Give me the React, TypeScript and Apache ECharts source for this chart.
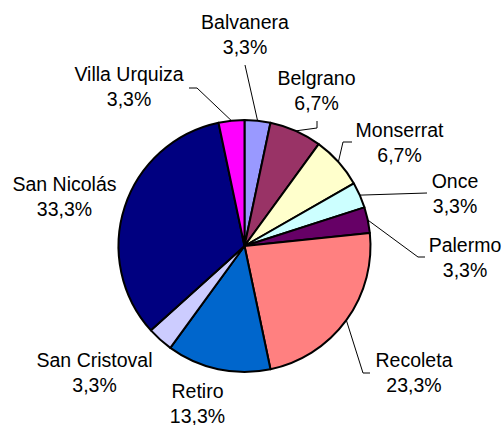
import React, { useEffect, useRef } from "react";
import * as echarts from "echarts";

const districts = [
  "Balvanera",
  "Belgrano",
  "Monserrat",
  "Once",
  "Palermo",
  "Recoleta",
  "Retiro",
  "San Cristoval",
  "San Nicolás",
  "Villa Urquiza",
];
const shares = [3.3, 6.7, 6.7, 3.3, 3.3, 23.3, 13.3, 3.3, 33.3, 3.3];
const sliceColors = [
  "#9999FF",
  "#993366",
  "#FFFFCC",
  "#CCFFFF",
  "#660066",
  "#FF8080",
  "#0066CC",
  "#CCCCFF",
  "#000080",
  "#FF00FF",
];

// layout (label centres, leader-line offsets relative to label centre)
const CX = 244.5;
const CY = 246;
const R = 126;
const labelCenters: number[][] = [
  [245, 34],
  [316.5, 90],
  [399.5, 142],
  [455, 193],
  [465, 257],
  [414, 372],
  [197.5, 403],
  [94.5, 372],
  [64.5, 196],
  [129, 86.5],
];
const leaderOffsets: (number[][] | null)[] = [
  [[0, 31], [0, 31]],
  [[0.5, 38], [0.5, 31]],
  [[-56.5, 0], [-47.5, 0]],
  [[-28, 0], [-28, 0]],
  [[-47, 0], [-40, 0]],
  [[-51, 1], [-44, 1]],
  null,
  null,
  null,
  [[68, 1.5], [60, 1.5]],
];

export default function App() {
  const ref = useRef<HTMLDivElement>(null);
  useEffect(() => {
    if (!ref.current) return;
    const chart = echarts.init(ref.current, undefined, { renderer: "svg" });
    const total = shares.reduce((a, b) => a + b, 0);
    const edgePoints: number[][] = [];
    let cum = 0;
    shares.forEach((v) => {
      const a = ((cum + v / 2) / total) * Math.PI * 2;
      edgePoints.push([CX + R * Math.sin(a), CY - R * Math.cos(a)]);
      cum += v;
    });
    chart.setOption({
      animation: false,
      backgroundColor: "#ffffff",
      series: [
        {
          type: "pie",
          center: [CX, CY],
          radius: R,
          startAngle: 90,
          clockwise: true,
          avoidLabelOverlap: false,
          itemStyle: { borderColor: "#000000", borderWidth: 2 },
          label: {
            show: true,
            position: "outside",
            color: "#000000",
            fontFamily: "'Liberation Sans', Arial, sans-serif",
            fontSize: 19.5,
            lineHeight: 25,
            align: "center",
            formatter: (p: any) =>
              `${p.name}\n${Number(p.value).toFixed(1).replace(".", ",")}%`,
          },
          labelLine: {
            show: true,
            lineStyle: { color: "#000000", width: 1 },
          },
          labelLayout: (params: any) => {
            const i = params.dataIndex;
            const c = labelCenters[i];
            const res: any = {
              x: c[0],
              y: c[1],
              align: "center",
              verticalAlign: "middle",
            };
            const off = leaderOffsets[i];
            if (off) {
              res.labelLinePoints = [
                edgePoints[i],
                [c[0] + off[0][0], c[1] + off[0][1]],
                [c[0] + off[1][0], c[1] + off[1][1]],
              ];
            }
            return res;
          },
          data: districts.map((name, i) => ({
            name,
            value: shares[i],
            itemStyle: { color: sliceColors[i] },
            labelLine: { show: leaderOffsets[i] !== null },
          })),
        },
      ],
    });
    return () => chart.dispose();
  }, []);
  return (
    <div
      ref={ref}
      style={{ position: "absolute", left: 0, top: 0, width: 504, height: 425 }}
    />
  );
}
